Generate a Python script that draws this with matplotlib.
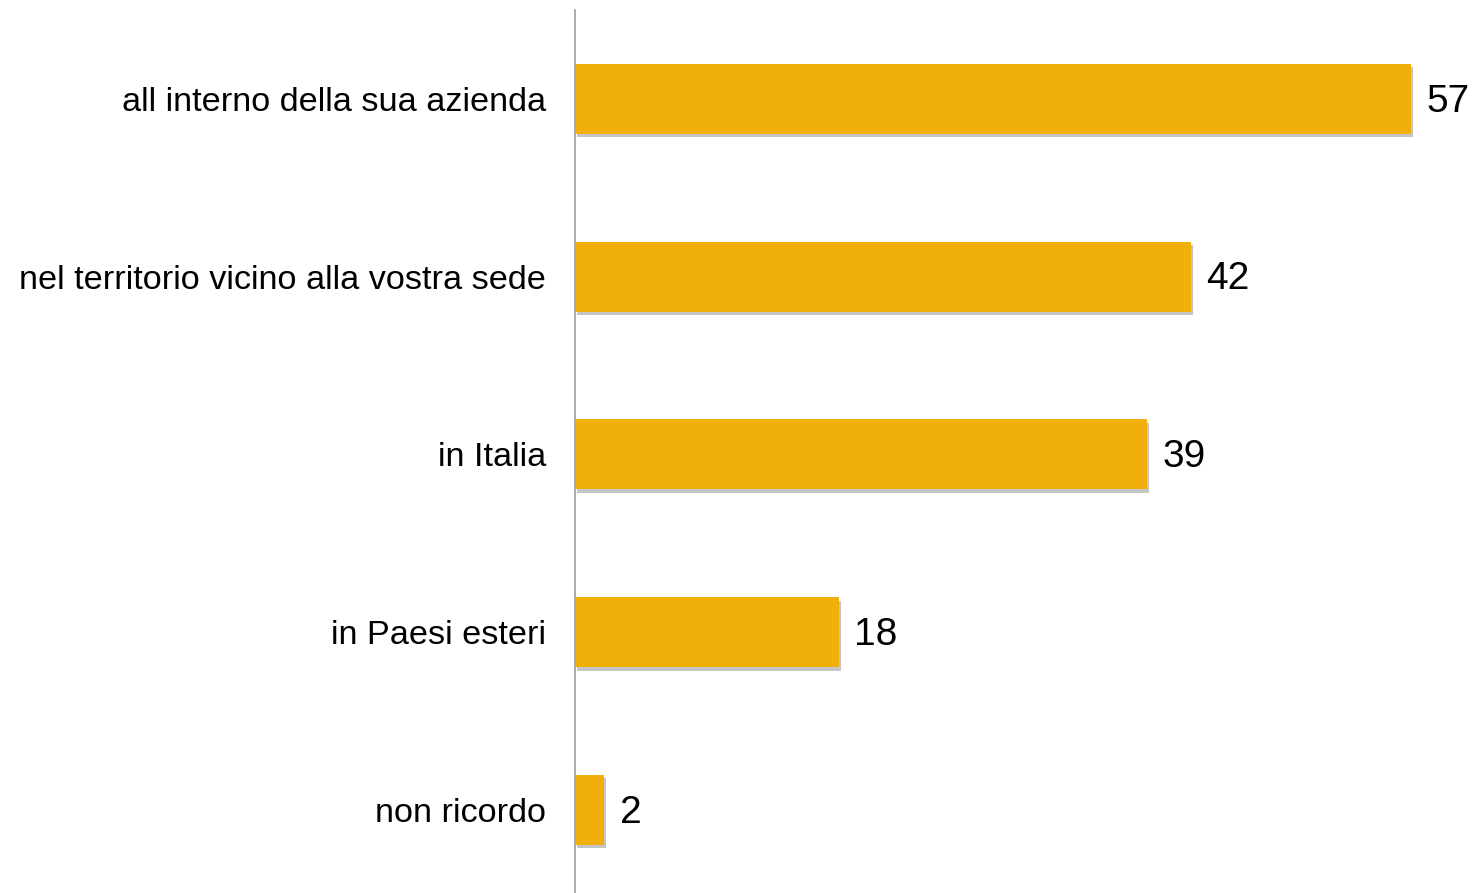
import matplotlib
matplotlib.use("Agg")
import matplotlib.pyplot as plt
import matplotlib.patheffects as pe

categories = ["all interno della sua azienda", "nel territorio vicino alla vostra sede",
              "in Italia", "in Paesi esteri", "non ricordo"]
values = [57, 42, 39, 18, 2]

plt.rcParams['font.family'] = ['Liberation Sans', 'DejaVu Sans']

fig = plt.figure(figsize=(14.74, 8.93), dpi=100)
ax = fig.add_axes([575/1474, 0, 899/1474, 883/893])

ypos = list(range(len(categories)))[::-1]
bars = ax.barh(ypos, values, height=0.394, color='#F0AF0A', zorder=2)
for b in bars:
    b.set_path_effects([pe.SimplePatchShadow(offset=(1.5, -2.5), shadow_rgbFace='#808080', alpha=0.45),
                        pe.Normal()])

for y, v in zip(ypos, values):
    ax.text(v + 1.05, y - 0.015, str(v), va='center', ha='left', fontsize=28, color='#000000')

ax.set_xlim(0, 61.3)
ax.set_ylim(-0.467, 4.5)
ax.set_yticks(ypos)
ax.set_yticklabels(categories, fontsize=24.7)
ax.tick_params(axis='y', length=0, pad=21)
ax.set_xticks([])
for s in ['top', 'right', 'bottom']:
    ax.spines[s].set_visible(False)
ax.spines['left'].set_color('#a6a6a6')
ax.spines['left'].set_linewidth(1.3)

fig.savefig("out.png", dpi=100)
